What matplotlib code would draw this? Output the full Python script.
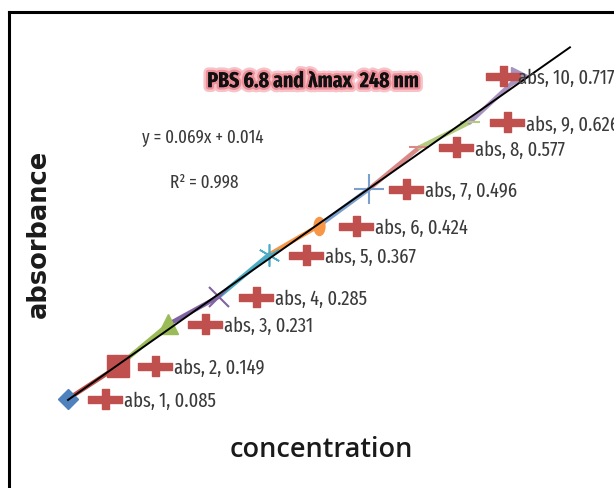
import matplotlib
matplotlib.use("Agg")
import matplotlib.pyplot as plt
import numpy as np
from matplotlib.path import Path
from matplotlib.lines import Line2D
import matplotlib.transforms as mtrans
import matplotlib.patheffects as pe

# ---- data ----
series_name = "abs"
concentration = [1, 2, 3, 4, 5, 6, 7, 8, 9, 10]
absorbance = [0.085, 0.149, 0.231, 0.285, 0.367, 0.424, 0.496, 0.577, 0.626, 0.717]
slope = 0.069
intercept = 0.014
r_squared = 0.998
title_text = "PBS 6.8 and \u03bbmax  248 nm"
xlabel_text = "concentration"
ylabel_text = "absorbance"

point_colors = ["#4F81BD", "#C0504D", "#9BBB59", "#8064A2", "#4BACC6",
                "#F79646", "#7BA0CD", "#D98A88", "#B4CC7F", "#A893C0"]
point_markers = ["D", "s", "^", "x", (6, 2, 0), "o", "+", "_", "_", ">"]
marker_sizes = [10, 16, 15, 15, 16, 13, 22, 14, 14, 13]

NARROW = ["Fira Sans Extra Condensed", "DejaVu Sans"]
TXT = "#3a3a3a"

fig = plt.figure(figsize=(6.14, 4.89), dpi=100)
ax = fig.add_axes([0.029, 0.0933, 0.9156, 0.857])
ax.set_xlim(0, 11.2)
ax.set_ylim(0, 0.82)
ax.axis("off")

# segments coloured by point
for i in range(1, len(concentration)):
    ax.plot(concentration[i-1:i+1], absorbance[i-1:i+1], color=point_colors[i],
            lw=3.2, solid_capstyle="round", zorder=2)

ellipse = Path.unit_circle().transformed(mtrans.Affine2D().scale(0.6, 1.0))
for i, (x, y) in enumerate(zip(concentration, absorbance)):
    m = point_markers[i]
    if m == "o":
        m = ellipse
    kw = dict(marker=m, color=point_colors[i], markersize=marker_sizes[i], ls="none", zorder=3)
    if point_markers[i] in ("x", "+", "_"):
        kw["markeredgewidth"] = 1.5
    elif isinstance(point_markers[i], tuple):
        kw["markeredgewidth"] = 1.2
        kw["markeredgecolor"] = point_colors[i]
    ax.plot([x], [y], **kw)

# trendline
xt = np.array([1.0, 11.0])
ax.plot(xt, slope * xt + intercept, color="black", lw=1.4, zorder=4)

# plus legend-key marker (wide)
hw, hh, t = 1.0, 0.6, 0.21
plus_verts = [(-hw, -t), (-t, -t), (-t, -hh), (t, -hh), (t, -t), (hw, -t), (hw, t),
              (t, t), (t, hh), (-t, hh), (-t, t), (-hw, t), (-hw, -t)]
plus_path = Path(plus_verts, closed=True)

for i, (x, y) in enumerate(zip(concentration, absorbance)):
    dx_plus, dx_text = 37, 56
    if i == len(concentration) - 1:
        dx_plus, dx_text = -17, -2
    ax.plot([x], [y], marker=plus_path, markersize=24, color="#C0504D", ls="none",
            zorder=5, clip_on=False,
            transform=ax.transData + mtrans.ScaledTranslation(dx_plus/100, 0, fig.dpi_scale_trans))
    ax.annotate(f"{series_name}, {x}, {y}", (x, y), xytext=(dx_text * 0.72, -1),
                textcoords="offset points", ha="left", va="center",
                fontsize=14.5, family=NARROW, color=TXT, zorder=6, annotation_clip=False)

# title with glow
fig.text(313/614, 1 - 82/489, title_text, ha="center", va="center", fontsize=15.5,
         fontweight="bold", family=NARROW, color="#111111",
         path_effects=[pe.withStroke(linewidth=7, foreground="#F7C3C8"),
                       pe.withStroke(linewidth=3.5, foreground="#EE8E98"), pe.Normal()])

# equation
fig.text(203/614, 1 - 137/489, f"y = {slope}x + {intercept}", ha="center", va="center",
         fontsize=13.3, family=NARROW, color=TXT)
fig.text(204/614, 1 - 183/489, f"R\u00b2 = {r_squared}", ha="center", va="center",
         fontsize=13.3, family=NARROW, color=TXT)

# axis titles
fig.text(321/614, 1 - 450/489, xlabel_text, ha="center", va="center", fontsize=19.5,
         fontweight="semibold", family=["Open Sans", "DejaVu Sans"], color="#1a1a1a")
fig.text(39/614, 1 - 234/489, ylabel_text, ha="center", va="center", rotation=90,
         fontsize=18.5, fontweight="bold", family=["DejaVu Sans"], color="#1a1a1a")

# frame
fig.add_artist(Line2D([9/614, 9/614], [0, 1 - 13/489], color="black", lw=2.2, transform=fig.transFigure))
fig.add_artist(Line2D([9/614, 1], [1 - 13/489, 1 - 13/489], color="black", lw=2.2, transform=fig.transFigure))

fig.savefig("out.png", dpi=100)
